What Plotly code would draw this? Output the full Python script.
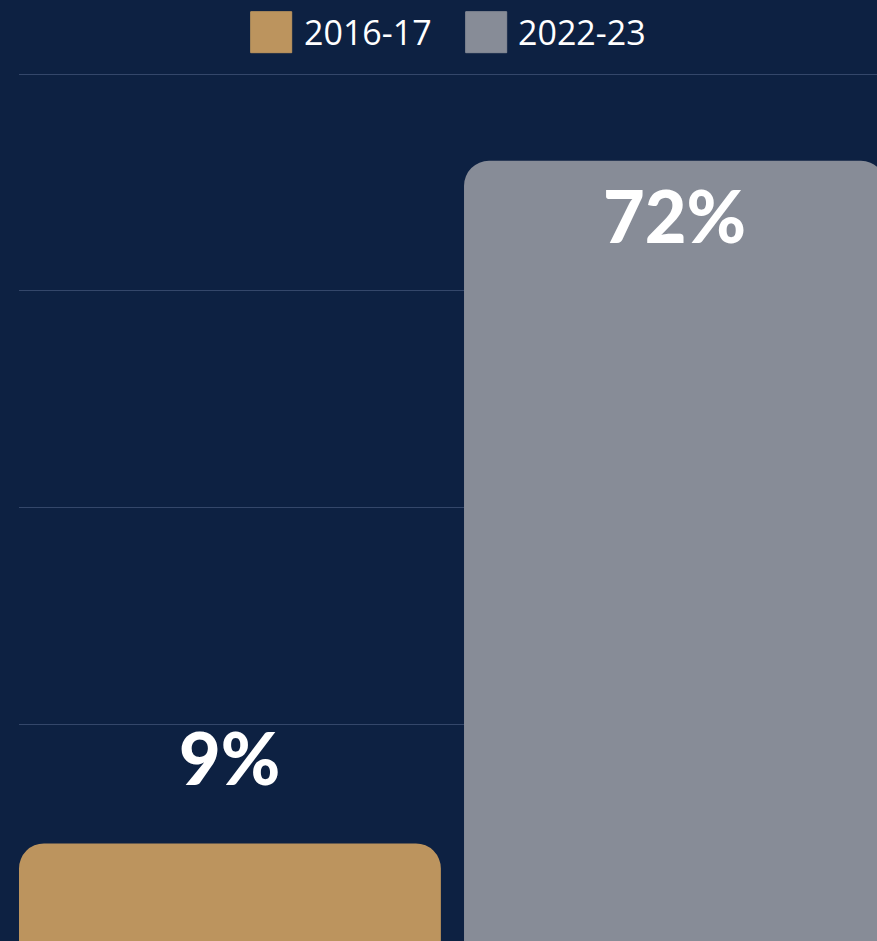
import plotly.graph_objects as go

# ---- data ----
categories = ["Total"]
series_names = ["2016-17", "2022-23"]
values_2016 = [9]
values_2022 = [72]
series_colors = ["#bc945e", "#878c97"]

BG = "#0d2142"
GRID = "#34476a"

fig = go.Figure()
for name, vals, col in zip(series_names, [values_2016, values_2022], series_colors):
    fig.add_trace(go.Bar(
        x=categories, y=vals, name=name,
        marker=dict(color=col, line=dict(width=0), cornerradius=25),
        showlegend=False, hoverinfo="skip",
    ))

# value labels
offsets = [-0.25, 0.25]
for off, vals in zip(offsets, [values_2016, values_2022]):
    v = vals[0]
    inside = v > 30
    fig.add_annotation(
        x=off, y=v, xref="x", yref="y",
        text=f"{v}%", showarrow=False,
        yanchor="top" if inside else "bottom",
        yshift=-9 if inside else 41,
        font=dict(family="Lato", size=72, color="white", weight=900),
    )

# manual legend (large swatches)
L, R, T, H = 19, 877, 73, 941
pw, ph = R - L, H - T
def px(x): return (x - L) / pw
def py(y): return (H - y) / ph

swatch_left = [250.7, 465.7]
label_left = [302, 516]
for name, col, sx, lx in zip(series_names, series_colors, swatch_left, label_left):
    fig.add_shape(type="rect", xref="paper", yref="paper",
                  x0=px(sx), x1=px(sx + 41), y0=py(52.7), y1=py(11.7),
                  fillcolor=col, line=dict(color=col, width=1), layer="above")
    fig.add_annotation(x=px(lx), y=py(32.5), xref="paper", yref="paper",
                       text=name, showarrow=False, xanchor="left", yanchor="middle",
                       font=dict(family="Open Sans", size=34, color="white"))

fig.update_layout(
    width=877, height=941,
    margin=dict(l=L, r=0, t=T, b=0),
    paper_bgcolor=BG, plot_bgcolor=BG,
    barmode="group", bargap=0, bargroupgap=0.052,
    showlegend=False,
    xaxis=dict(range=[-0.487, 0.477], showticklabels=False, showgrid=False,
               zeroline=False, showline=False, ticks=""),
    yaxis=dict(range=[0, 80.1], dtick=20, showticklabels=False, showgrid=True,
               gridcolor=GRID, gridwidth=1, zeroline=False, showline=False, ticks=""),
)

fig.write_html(
    "out.html",
    config={"displayModeBar": False},
    post_script="document.body.style.margin='0';document.body.style.background='%s';" % BG,
)
